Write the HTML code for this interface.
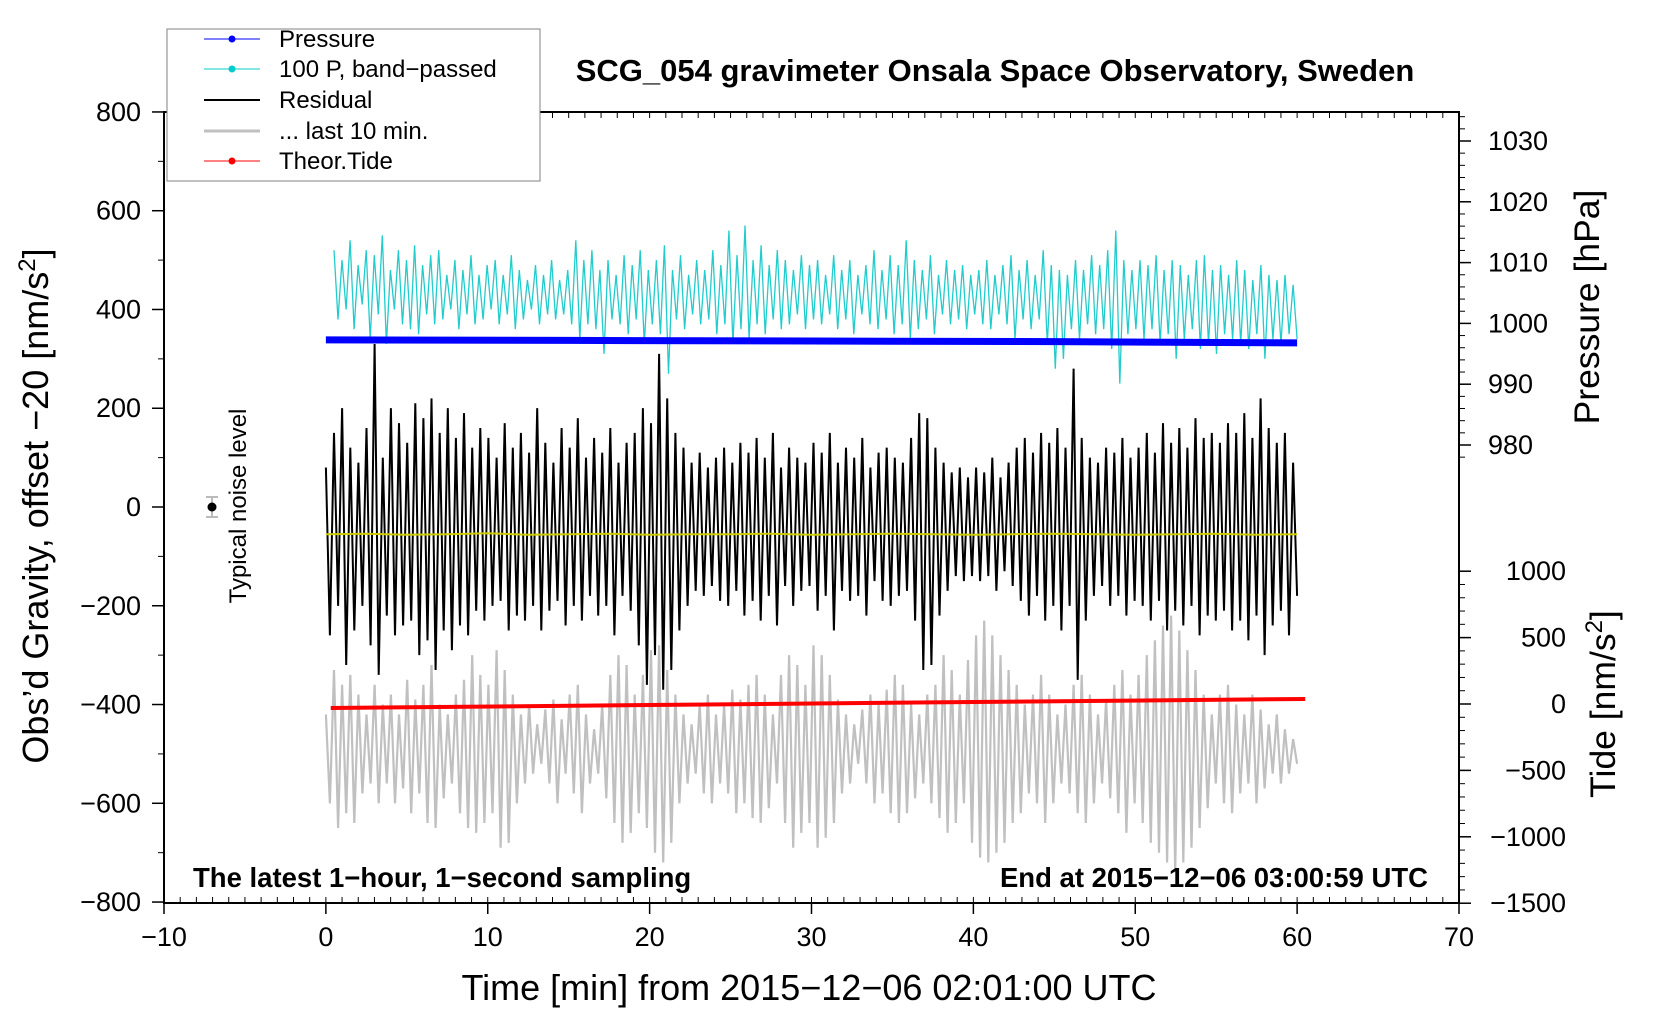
<!DOCTYPE html>
<html><head><meta charset="utf-8"><style>
html,body{margin:0;padding:0;background:#fff;}
svg{display:block;font-family:"Liberation Sans",sans-serif;}
</style></head><body>
<svg id="chart" width="1660" height="1020" viewBox="0 0 1660 1020">
<g id="series"></g>
<g id="axes"></g>
<text x="995" y="81" font-size="31" font-weight="bold" text-anchor="middle">SCG_054 gravimeter Onsala Space Observatory, Sweden</text>
<text x="193" y="887" font-size="27.5" font-weight="bold">The latest 1−hour, 1−second sampling</text>
<text x="1428" y="887" font-size="27.5" font-weight="bold" text-anchor="end">End at 2015−12−06 03:00:59 UTC</text>
<text x="809" y="1000" font-size="36" text-anchor="middle">Time [min] from 2015−12−06 02:01:00 UTC</text>
<text transform="translate(48,506) rotate(-90)" font-size="36" text-anchor="middle">Obs’d Gravity, offset −20 [nm/s<tspan dy="-13" font-size="24">2</tspan><tspan dy="13">]</tspan></text>
<text transform="translate(1599,307) rotate(-90)" font-size="35.5" text-anchor="middle">Pressure [hPa]</text>
<text transform="translate(1615,704) rotate(-90)" font-size="35.5" text-anchor="middle">Tide [nm/s<tspan dy="-13" font-size="24">2</tspan><tspan dy="13">]</tspan></text>
<g>
<line x1="212" y1="497" x2="212" y2="517" stroke="#bbb" stroke-width="2"/>
<line x1="206" y1="497" x2="218" y2="497" stroke="#bbb" stroke-width="2"/>
<line x1="206" y1="517" x2="218" y2="517" stroke="#bbb" stroke-width="2"/>
<circle cx="212" cy="507" r="4.5" fill="#000"/>
<text transform="translate(246,506) rotate(-90)" font-size="24" text-anchor="middle">Typical noise level</text>
</g>
<g>
<rect x="167" y="29" width="373" height="152" fill="#fff" stroke="#808080" stroke-width="1"/>
<g><line x1="204" y1="39" x2="260" y2="39" stroke="#0000ff" stroke-width="1"/><circle cx="232" cy="39" r="3.5" fill="#0000ff"/><text x="279" y="47" font-size="24">Pressure</text></g>
<g><line x1="204" y1="69" x2="260" y2="69" stroke="#00cccc" stroke-width="1"/><circle cx="232" cy="69" r="3.5" fill="#00cccc"/><text x="279" y="77" font-size="24">100 P, band−passed</text></g>
<g><line x1="204" y1="100" x2="260" y2="100" stroke="#000" stroke-width="2"/><text x="279" y="108" font-size="24">Residual</text></g>
<g><line x1="204" y1="131" x2="260" y2="131" stroke="#c0c0c0" stroke-width="3"/><text x="279" y="139" font-size="24">... last 10 min.</text></g>
<g><line x1="204" y1="161" x2="260" y2="161" stroke="#ff0000" stroke-width="1"/><circle cx="232" cy="161" r="3.5" fill="#ff0000"/><text x="279" y="169" font-size="24">Theor.Tide</text></g>
</g>
</svg>
<script>
const residual = [80,-260,150,-200,200,-320,120,-250,90,-200,160,-280,330,-340,100,-220,200,-260,170,-240,
130,-230,210,-300,180,-270,220,-330,150,-250,200,-290,140,-240,190,-260,120,-210,160,-230,
140,-200,100,-190,170,-250,120,-220,150,-230,110,-200,200,-250,130,-210,90,-190,160,-240,
120,-200,180,-230,100,-180,140,-220,110,-200,160,-260,90,-180,130,-210,150,-280,200,-360,
170,-300,310,-370,220,-330,150,-250,120,-200,90,-170,110,-180,80,-160,100,-190,120,-200,
90,-170,130,-220,110,-190,140,-230,100,-180,150,-240,80,-160,120,-200,100,-170,90,-160,
130,-210,110,-180,150,-250,90,-170,120,-190,100,-180,140,-220,80,-150,110,-190,120,-200,
100,-180,90,-170,140,-230,190,-330,180,-320,120,-220,90,-170,70,-140,80,-150,60,-140,
80,-150,70,-140,100,-170,60,-130,90,-160,120,-190,140,-220,110,-180,150,-230,130,-200,
160,-250,120,-200,280,-350,140,-230,100,-180,90,-160,120,-200,110,-180,140,-220,100,-190,
120,-200,150,-230,110,-190,170,-250,130,-210,160,-240,120,-200,180,-260,140,-220,150,-230,
130,-210,170,-250,150,-230,190,-270,140,-220,220,-300,160,-240,130,-210,150,-260,90,-180];
const bandPassed = [520,380,500,400,540,360,490,410,520,340,510,390,550,330,480,400,520,370,500,360,
530,350,490,390,510,370,520,380,470,400,500,360,480,390,510,370,470,380,490,400,
500,370,470,390,510,360,480,380,460,400,490,370,470,390,500,380,460,390,480,370,
540,340,500,370,520,360,480,310,500,380,470,370,510,350,490,380,520,330,480,370,
500,350,530,270,480,380,510,360,470,390,500,370,480,380,520,350,490,370,560,330,
510,360,570,340,500,370,530,350,490,380,520,360,500,370,480,390,510,360,490,380,
500,370,470,390,510,360,480,380,500,350,470,390,490,370,520,360,480,380,510,350,
490,370,540,340,500,360,480,380,510,350,470,390,500,370,480,380,490,360,470,390,
480,370,500,360,470,390,490,370,510,340,480,380,500,360,470,380,520,330,490,280,
480,300,470,360,500,340,480,370,510,350,490,360,520,320,560,250,500,350,480,360,
500,340,490,360,510,330,480,350,500,300,490,340,470,360,500,320,510,330,480,310,
490,350,470,340,500,330,480,320,460,350,490,300,470,340,460,330,470,350,450,340];
const last10 = [-420,-600,-330,-650,-360,-620,-340,-640,-380,-580,-420,-560,-360,-600,-400,-560,-380,-600,-420,-570,
-350,-620,-390,-580,-360,-640,-320,-650,-400,-590,-420,-560,-380,-620,-350,-650,-300,-660,-340,-640,
-360,-620,-290,-690,-330,-680,-380,-600,-420,-560,-400,-540,-440,-520,-410,-560,-390,-600,-430,-540,
-380,-580,-360,-620,-420,-560,-450,-540,-400,-590,-340,-640,-300,-680,-320,-660,-380,-620,-340,-650,
-290,-700,-280,-720,-330,-680,-380,-600,-420,-560,-440,-540,-400,-580,-380,-600,-420,-560,-400,-580,
-370,-620,-390,-600,-360,-630,-340,-640,-380,-610,-420,-560,-340,-640,-300,-690,-320,-660,-360,-640,
-280,-690,-300,-670,-340,-640,-390,-580,-420,-560,-440,-520,-410,-560,-380,-600,-400,-580,-370,-620,
-340,-640,-360,-620,-400,-590,-420,-560,-380,-600,-360,-630,-300,-660,-330,-640,-380,-600,-310,-680,
-260,-710,-230,-720,-260,-700,-300,-680,-330,-640,-360,-620,-400,-580,-380,-600,-340,-640,-380,-600,
-420,-560,-400,-580,-360,-620,-340,-640,-380,-600,-420,-560,-390,-590,-360,-620,-330,-660,-380,-600,
-340,-640,-300,-680,-270,-700,-240,-720,-220,-740,-250,-720,-290,-690,-330,-650,-380,-610,-420,-560,
-380,-600,-360,-620,-400,-580,-420,-560,-380,-600,-410,-570,-440,-540,-420,-560,-450,-540,-470,-520];
const residualMean = [-55,-54,-56,-55,-53,-56,-55,-54,-56,-55,-55,-54,-56,-55,-54,-55,-56,-55,-54,-55,-56,-55,-54,-56,-55];
const pressureTimes = [0, 15, 30, 45, 60];
const pressureValues = [997.3, 997.2, 997.1, 997.0, 996.8];
const tideTimes = [0.3, 60.5];
const tideValues = [-30, 38];
const xTicks = [-10, 0, 10, 20, 30, 40, 50, 60, 70];
const yTicks = [-800, -600, -400, -200, 0, 200, 400, 600, 800];
const pressureTicks = [980, 990, 1000, 1010, 1020, 1030];
const tideTicks = [-1500, -1000, -500, 0, 500, 1000];

const L = 164, R = 1459, T = 112, B = 903;
const xs = t => L + (t + 10) * (R - L) / 80;
const ys = v => 507 - v * 0.4938;
const yp = p => 141 + (1030 - p) * 6.08;
const yt = v => 704 - v * 0.1328;
const NS = "http://www.w3.org/2000/svg";
const series = document.getElementById('series');
const axes = document.getElementById('axes');
function mk(tag, attrs, parent) { const e = document.createElementNS(NS, tag); for (const k in attrs) e.setAttribute(k, attrs[k]); parent.appendChild(e); return e; }
function pts(arr, t0, t1, yf) { const n = arr.length; return arr.map((v, i) => xs(t0 + (t1 - t0) * i / (n - 1)).toFixed(1) + ',' + yf(v).toFixed(1)).join(' '); }

let e;
e = mk('polyline', {points: pts(last10, 0, 60, ys), fill: 'none', stroke: '#c0c0c0', 'stroke-width': 2.2}, series);


e = mk('polyline', {points: pts(bandPassed, 0.5, 60, ys), fill: 'none', stroke: '#22cccc', 'stroke-width': 1.3}, series);


e = mk('polyline', {points: pressureValues.map((p, i) => xs(pressureTimes[i]) + ',' + yp(p)).join(' '), fill: 'none', stroke: '#0000ff', 'stroke-width': 7}, series);


e = mk('polyline', {points: pts(residual, 0, 60, ys), fill: 'none', stroke: '#000', 'stroke-width': 2}, series);


e = mk('polyline', {points: pts(residualMean, 0, 60, ys), fill: 'none', stroke: '#cccc00', 'stroke-width': 2}, series);


e = mk('polyline', {points: tideValues.map((v, i) => xs(tideTimes[i]) + ',' + yt(v)).join(' '), fill: 'none', stroke: '#ff0000', 'stroke-width': 4}, series);



e = mk('rect', {x: L, y: T, width: R - L, height: B - T, fill: 'none', stroke: '#000', 'stroke-width': 2}, axes);


for (let t = -10; t <= 70; t++) {
  mk('line', {x1: xs(t), x2: xs(t), y1: B, y2: B - 6, stroke: '#000', 'stroke-width': 1}, axes);
  mk('line', {x1: xs(t), x2: xs(t), y1: T, y2: T + 6, stroke: '#000', 'stroke-width': 1}, axes);
}
xTicks.forEach(t => {
  mk('line', {x1: xs(t), x2: xs(t), y1: B, y2: B + 11, stroke: '#000', 'stroke-width': 1.5}, axes);
  const tx = mk('text', {x: xs(t), y: 946, 'font-size': 27, 'text-anchor': 'middle'}, axes);
  tx.textContent = String(t).replace('-', '−');
  
  
});
for (let v = -800; v <= 800; v += 100) mk('line', {x1: L, x2: L - 6, y1: ys(v), y2: ys(v), stroke: '#000', 'stroke-width': 1}, axes);
yTicks.forEach(v => {
  mk('line', {x1: L, x2: L - 12, y1: ys(v), y2: ys(v), stroke: '#000', 'stroke-width': 1.5}, axes);
  const tx = mk('text', {x: 141, y: ys(v) + 9, 'font-size': 27, 'text-anchor': 'end'}, axes);
  tx.textContent = String(v).replace('-', '−');
  
  
});
for (let p = 976; p <= 1034; p += 2) { const y = yp(p); if (y > T && y < 460) mk('line', {x1: R, x2: R + 6, y1: y, y2: y, stroke: '#000', 'stroke-width': 1}, axes); }
pressureTicks.forEach(p => {
  mk('line', {x1: R, x2: R + 12, y1: yp(p), y2: yp(p), stroke: '#000', 'stroke-width': 1.5}, axes);
  const tx = mk('text', {x: 1488, y: yp(p) + 9, 'font-size': 27}, axes);
  tx.textContent = p;
  
  
});
for (let v = -1500; v <= 1000; v += 100) mk('line', {x1: R, x2: R + 6, y1: yt(v), y2: yt(v), stroke: '#000', 'stroke-width': 1}, axes);
tideTicks.forEach(v => {
  mk('line', {x1: R, x2: R + 12, y1: yt(v), y2: yt(v), stroke: '#000', 'stroke-width': 1.5}, axes);
  const tx = mk('text', {x: 1566, y: yt(v) + 9, 'font-size': 27, 'text-anchor': 'end'}, axes);
  tx.textContent = String(v).replace('-', '−');
  
  
});
</script>
</body></html>
